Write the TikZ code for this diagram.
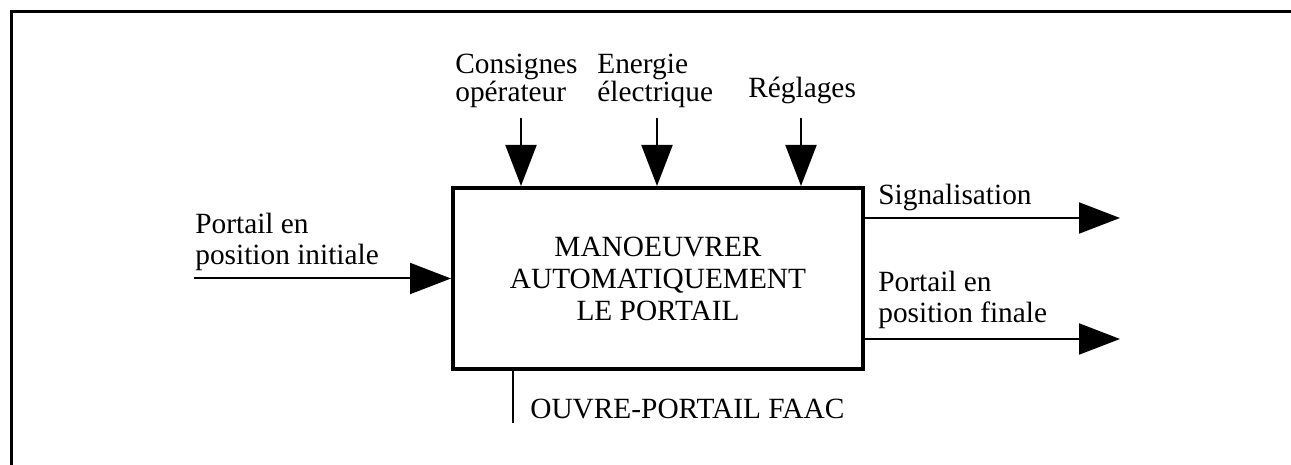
\documentclass[tikz,border=0pt]{standalone}
\usepackage{fontspec}
\setmainfont{Liberation Serif}
\usetikzlibrary{arrows.meta, positioning}

\begin{document}
\begin{tikzpicture}[
        >={Triangle[length=0.82cm, width=0.62cm]},
        fonction/.style={draw, line width=0.08cm, minimum width=8.2cm, minimum height=3.62cm, align=center, font=\fontsize{16.7}{18.2}\selectfont},
        flux/.style={->, line width=0.04cm},
        etiquette/.style={inner sep=0pt, align=left, font=\fontsize{16.7}{17.8}\selectfont}
    ]
        \useasboundingbox (0, 0) rectangle (25.82, 9.30);
        \draw[line width=0.06cm] (0.22, 0) -- (0.22, 9.06) -- (25.82, 9.06);

        \node[fonction] (main) at (13.16, 3.73) {MANOEUVRER\\AUTOMATIQUEMENT\\LE PORTAIL};

        \coordinate (c1) at (10.42, 6.94);
        \coordinate (c2) at (13.14, 6.94);
        \coordinate (c3) at (16.02, 6.94);
        \coordinate (e1) at (3.88, 3.73);
        \coordinate (s1) at (22.40, 4.94);
        \coordinate (s2) at (22.40, 2.52);
        \coordinate (m1) at (10.26, 0.84);

        \draw[flux] (c1) -- (c1 |- main.north);
        \draw[flux] (c2) -- (c2 |- main.north);
        \draw[flux] (c3) -- (c3 |- main.north);
        \draw[flux] (e1) -- (main.west);
        \draw[flux] (main.east |- s1) -- (s1);
        \draw[flux] (main.east |- s2) -- (s2);
        \draw[line width=0.04cm] (main.south -| m1) -- (m1);

        \node[etiquette, anchor=south west, font=\fontsize{16.7}{16.0}\selectfont] (consignes) at (9.10, 7.13) {Consignes\\opérateur};
        \node[etiquette, anchor=south west, font=\fontsize{16.7}{16.0}\selectfont] (energie) at (11.94, 7.13) {Energie\\électrique};
        \node[etiquette, anchor=south west] (reglages) at (14.96, 7.22) {Réglages};
        \node[etiquette, anchor=south west] (initiale) at (3.90, 3.87) {Portail en\\position initiale};
        \node[etiquette, anchor=south west] (signal) at (17.56, 5.08) {Signalisation};
        \node[etiquette, anchor=south west] (finale) at (17.56, 2.72) {Portail en\\position finale};
        \node[etiquette, anchor=base west] (support) at (10.60, 0.92) {OUVRE-PORTAIL FAAC};
    \end{tikzpicture}
\end{document}
